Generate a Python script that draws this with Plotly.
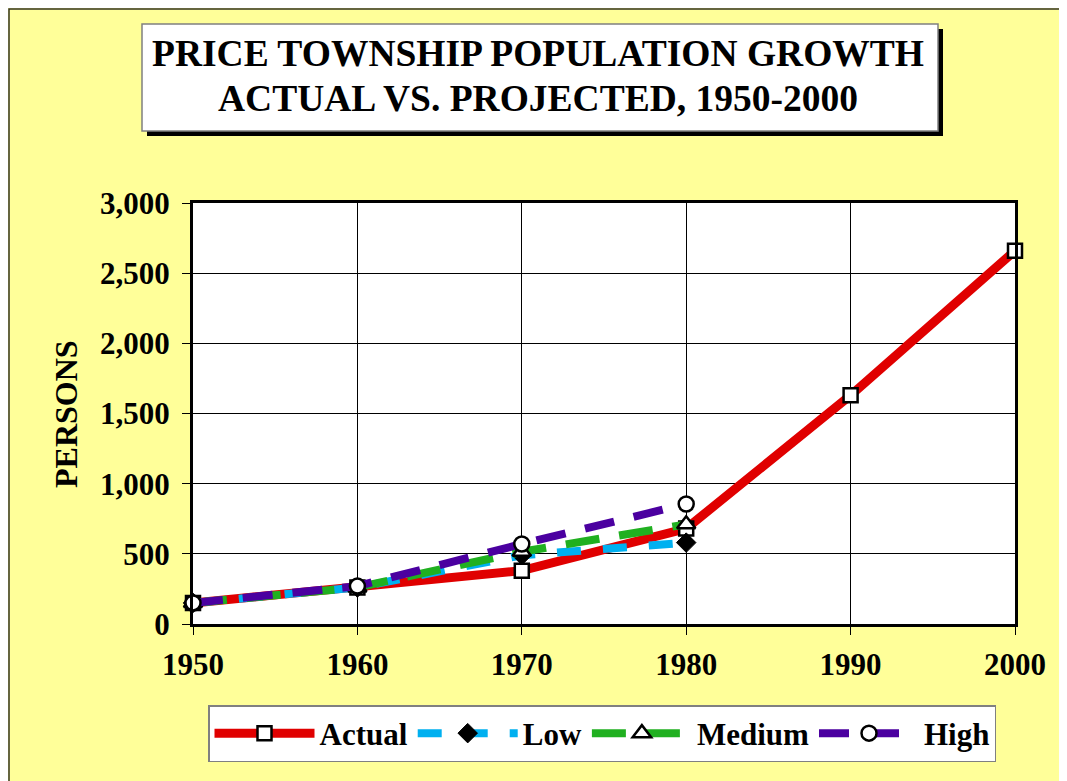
import plotly.graph_objects as go

# ---- data ----
years = [1950, 1960, 1970, 1980, 1990, 2000]
actual = [150, 260, 380, 680, 1630, 2660]
proj_years = [1950, 1960, 1970, 1980]
low = [150, 260, 490, 580]
medium = [150, 260, 515, 710]
high = [150, 270, 570, 855]
y_ticks = [0, 500, 1000, 1500, 2000, 2500, 3000]
y_tick_text = ["0", "500", "1,000", "1,500", "2,000", "2,500", "3,000"]
x_ticks = [1950, 1960, 1970, 1980, 1990, 2000]

# ---- layout geometry (screen pixels; page body has an 8px margin) ----
OFF = 8
W, H = 1067, 781
L, R, T, B = 193, 1015, 203, 624
FONT = "Liberation Serif"


def px2x(px):
    return (px - L) / (R - L)


def py2y(py):
    return (B - py) / (B - T)


fig = go.Figure()

fig.add_trace(go.Scatter(
    x=years, y=actual, name="Actual", mode="lines+markers",
    line=dict(color="#E00000", width=9),
    marker=dict(symbol="square", size=14, color="white", line=dict(color="black", width=2.5)),
    cliponaxis=False))
fig.add_trace(go.Scatter(
    x=proj_years, y=low, name="Low", mode="lines+markers",
    line=dict(color="#00B0F0", width=8, dash="24px,22px"),
    marker=dict(symbol="diamond", size=15, color="black", line=dict(color="black", width=1)),
    cliponaxis=False))
fig.add_trace(go.Scatter(
    x=proj_years, y=medium, name="Medium", mode="lines+markers",
    line=dict(color="#20B020", width=8, dash="34px,20px"),
    marker=dict(symbol="triangle-up", size=16, color="white", line=dict(color="black", width=2.5)),
    cliponaxis=False))
fig.add_trace(go.Scatter(
    x=proj_years, y=high, name="High", mode="lines+markers",
    line=dict(color="#4B00A0", width=8, dash="30px,20px"),
    marker=dict(symbol="circle", size=15, color="white", line=dict(color="black", width=2.5)),
    cliponaxis=False))

shapes = [
    # chart frame
    dict(type="rect", xref="paper", yref="paper", x0=px2x(9), x1=px2x(1100), y0=py2y(820), y1=py2y(9),
         fillcolor="rgba(0,0,0,0)", line=dict(color="#333322", width=1.5), layer="below"),
    # title box shadow and box
    dict(type="rect", xref="paper", yref="paper", x0=px2x(147), x1=px2x(943), y0=py2y(136), y1=py2y(29),
         fillcolor="black", line=dict(width=0), layer="below"),
    dict(type="rect", xref="paper", yref="paper", x0=px2x(142), x1=px2x(938), y0=py2y(131), y1=py2y(24),
         fillcolor="white", line=dict(color="#808080", width=1.5), layer="below"),
]

title_font = dict(family=FONT, size=37.5, color="black", weight="bold")
annotations = [
    dict(text="PRICE TOWNSHIP POPULATION GROWTH",
         xref="paper", yref="paper", x=px2x(538), y=py2y(54), xanchor="center", yanchor="middle",
         showarrow=False, font=title_font),
    dict(text="ACTUAL VS. PROJECTED, 1950-2000",
         xref="paper", yref="paper", x=px2x(538), y=py2y(98), xanchor="center", yanchor="middle",
         showarrow=False, font=title_font),
    dict(text="PERSONS", xref="paper", yref="paper", x=px2x(66), y=py2y(414),
         xanchor="center", yanchor="middle", textangle=-90, showarrow=False,
         font=dict(family=FONT, size=32, color="black", weight="bold")),
]

tick_font = dict(family=FONT, size=31, color="black", weight="bold")

fig.update_layout(
    width=W, height=H,
    margin=dict(l=L - OFF, r=W - (R - OFF), t=T - OFF, b=H - (B - OFF), pad=0),
    paper_bgcolor="#FFFF99",
    plot_bgcolor="white",
    shapes=shapes,
    annotations=annotations,
    showlegend=True,
    legend=dict(
        orientation="h", x=px2x(208), y=py2y(705), xanchor="left", yanchor="top",
        bgcolor="white", bordercolor="#808080", borderwidth=1.5,
        font=dict(family=FONT, size=31, color="black", weight="bold"),
        itemwidth=100, traceorder="normal", itemsizing="trace",
    ),
    xaxis=dict(
        range=[1950, 2000], tickmode="array", tickvals=x_ticks,
        showgrid=True, gridcolor="black", gridwidth=1,
        showline=True, linecolor="black", linewidth=3, mirror=True,
        ticks="outside", ticklen=8, tickcolor="black", tickwidth=1,
        ticklabelstandoff=3,
        tickfont=tick_font,
        zeroline=False, fixedrange=True,
    ),
    yaxis=dict(
        range=[0, 3000], tickmode="array", tickvals=y_ticks, ticktext=y_tick_text,
        showgrid=True, gridcolor="black", gridwidth=1,
        showline=True, linecolor="black", linewidth=3, mirror=True,
        ticks="outside", ticklen=8, tickcolor="black", tickwidth=1,
        ticklabelstandoff=6,
        tickfont=tick_font,
        zeroline=False, fixedrange=True,
    ),
    hovermode=False,
)

fig.write_html("out.html")
